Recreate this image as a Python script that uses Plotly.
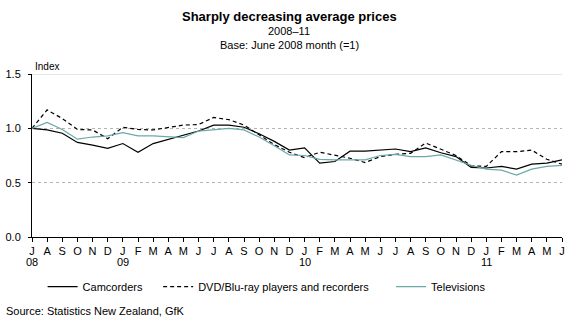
import plotly.graph_objects as go

# Monthly index values, July 2008 to June 2011 (base June 2008 = 1)
months = ["J", "A", "S", "O", "N", "D",
          "J", "F", "M", "A", "M", "J", "J", "A", "S", "O", "N", "D",
          "J", "F", "M", "A", "M", "J", "J", "A", "S", "O", "N", "D",
          "J", "F", "M", "A", "M", "J"]
year_marks = {0: "08", 6: "09", 18: "10", 30: "11"}

camcorders = [1.00, 0.985, 0.955, 0.87, 0.845, 0.815,
              0.86, 0.78, 0.86, 0.90, 0.935, 0.975,
              1.03, 1.03, 1.01, 0.95, 0.88, 0.80,
              0.82, 0.68, 0.695, 0.79, 0.79, 0.80,
              0.81, 0.785, 0.82, 0.775, 0.74, 0.64,
              0.635, 0.65, 0.625, 0.67, 0.68, 0.71]
dvd_bluray = [1.00, 1.17, 1.09, 0.99, 0.985, 0.905,
              1.01, 0.99, 0.985, 1.005, 1.03, 1.035,
              1.10, 1.08, 1.03, 0.94, 0.85, 0.78,
              0.73, 0.78, 0.755, 0.725, 0.685, 0.74,
              0.76, 0.77, 0.865, 0.81, 0.75, 0.655,
              0.65, 0.785, 0.785, 0.80, 0.715, 0.67]
televisions = [1.00, 1.055, 0.99, 0.90, 0.92, 0.93,
               0.96, 0.93, 0.93, 0.925, 0.915, 0.975,
               0.99, 1.00, 0.985, 0.92, 0.84, 0.755,
               0.75, 0.715, 0.71, 0.71, 0.71, 0.75,
               0.76, 0.74, 0.74, 0.755, 0.705, 0.66,
               0.625, 0.615, 0.57, 0.625, 0.65, 0.66]

y_ticks = [0.0, 0.5, 1.0, 1.5]

x = list(range(len(months)))

FONT = "Liberation Sans, Arial, sans-serif"
TEAL = "#6aa9ab"

fig = go.Figure()
fig.add_trace(go.Scatter(x=x, y=camcorders, mode="lines", name="Camcorders",
                         line=dict(color="black", width=1.2), legend="legend"))
fig.add_trace(go.Scatter(x=x, y=dvd_bluray, mode="lines",
                         name="DVD/Blu-ray players and recorders",
                         line=dict(color="black", width=1.2, dash="4px,3px"),
                         legend="legend2"))
fig.add_trace(go.Scatter(x=x, y=televisions, mode="lines", name="Televisions",
                         line=dict(color=TEAL, width=1.2), legend="legend3"))

# Light frame line along the top of the value range
fig.add_shape(type="line", xref="paper", x0=0, x1=1, yref="y",
              y0=max(y_ticks), y1=max(y_ticks),
              line=dict(color="#c9d0c9", width=1), layer="below")

legend_common = dict(orientation="h", yanchor="middle", xanchor="left",
                     bgcolor="rgba(0,0,0,0)", font=dict(family=FONT, size=11, color="black"),
                     itemwidth=30, tracegroupgap=0)

annotations = [
    dict(text="<b>Sharply decreasing average prices</b>", xref="paper", yref="paper",
         x=0.485, y=1.0, yshift=58, showarrow=False, font=dict(size=13),
         xanchor="center", yanchor="middle"),
    dict(text="2008–11", xref="paper", yref="paper", x=0.485, y=1.0, yshift=43,
         showarrow=False, xanchor="center", yanchor="middle"),
    dict(text="Base: June 2008 month (=1)", xref="paper", yref="paper", x=0.485,
         y=1.0, yshift=29, showarrow=False, xanchor="center", yanchor="middle"),
    dict(text="Index", xref="paper", yref="paper", x=0, y=1.0, yshift=8,
         xshift=1, showarrow=False, xanchor="left", yanchor="middle", font=dict(size=10)),
    dict(text="Source: Statistics New Zealand, GfK", xref="paper", yref="paper",
         x=0, xshift=-28, y=0, yshift=-74, showarrow=False, xanchor="left",
         yanchor="middle"),
]
# Year labels under the first month of each year
for i, yr in year_marks.items():
    annotations.append(dict(text=yr, xref="x", yref="paper", x=i, y=0, yshift=-25,
                            showarrow=False, xanchor="center", yanchor="middle"))

fig.update_layout(
    width=577, height=332,
    margin=dict(l=32, r=15, t=74, b=95, autoexpand=False),
    plot_bgcolor="white", paper_bgcolor="white",
    font=dict(family=FONT, size=11, color="black"),
    showlegend=True,
    legend=dict(x=0.02, y=-0.305, **legend_common),
    legend2=dict(x=0.238, y=-0.305, **legend_common),
    legend3=dict(x=0.6775, y=-0.305, **legend_common),
    xaxis=dict(range=[0, len(months) - 1], tickmode="array", tickvals=x,
               ticktext=months, ticks="outside", ticklen=4, tickcolor="black",
               showline=True, linecolor="black", linewidth=1, showgrid=False,
               zeroline=False, tickangle=0, tickfont=dict(size=11), automargin=False),
    yaxis=dict(range=[0, 1.5], tickmode="array", tickvals=y_ticks,
               ticktext=[f"{v:.1f}" for v in y_ticks],
               ticks="outside", ticklen=3, tickcolor="black",
               ticklabelstandoff=5, automargin=False,
               showline=True, linecolor="black", linewidth=1,
               showgrid=True, gridcolor="#b4b4b4", griddash="dot", gridwidth=1,
               zeroline=False, tickfont=dict(size=11)),
    annotations=annotations,
)

fig.write_html("out.html")
